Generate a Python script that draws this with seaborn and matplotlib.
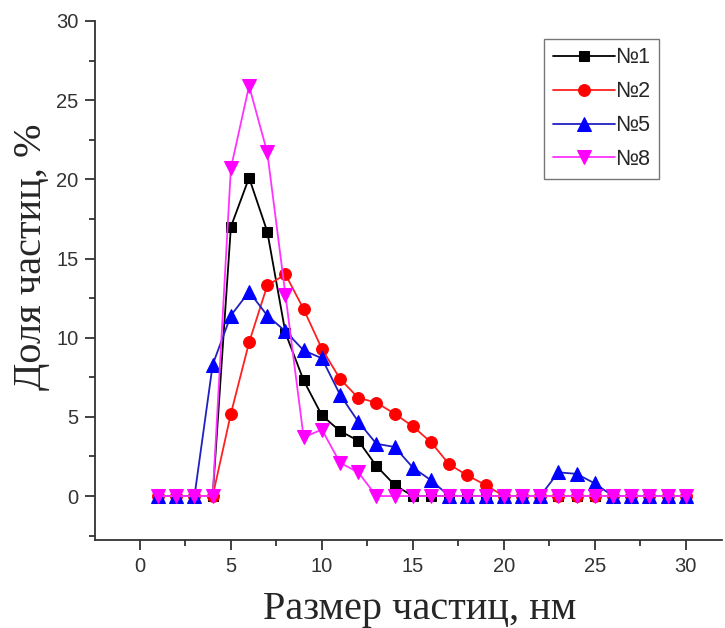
import matplotlib
matplotlib.use("Agg")
import matplotlib.pyplot as plt
import seaborn as sns
import numpy as np
from matplotlib.ticker import MultipleLocator

sizes = list(range(1, 31))
s1 = [0, 0, 0, 0, 17.0, 20.1, 16.7, 10.3, 7.3, 5.1, 4.1, 3.5, 1.9, 0.7, 0, 0, 0, 0, 0, 0, 0, 0, 0, 0, 0, 0, 0, 0, 0, 0]
s2 = [0, 0, 0, 0, 5.2, 9.7, 13.3, 14.0, 11.8, 9.3, 7.4, 6.2, 5.9, 5.2, 4.4, 3.4, 2.0, 1.3, 0.7, 0, 0, 0, 0, 0, 0, 0, 0, 0, 0, 0]
s5 = [0, 0, 0, 8.3, 11.4, 12.9, 11.4, 10.4, 9.2, 8.7, 6.4, 4.7, 3.3, 3.1, 1.8, 1.0, 0, 0, 0, 0, 0, 0, 1.5, 1.4, 0.8, 0, 0, 0, 0, 0]
s8 = [0, 0, 0, 0, 20.7, 25.9, 21.7, 12.7, 3.7, 4.2, 2.1, 1.5, 0, 0, 0, 0, 0, 0, 0, 0, 0, 0, 0, 0, 0, 0, 0, 0, 0, 0]
labels = ["№1", "№2", "№5", "№8"]
series = [s1, s2, s5, s8]

sns.set_style("ticks")
plt.rcParams['font.family'] = ['Liberation Sans', 'DejaVu Sans']

fig = plt.figure(figsize=(7.25, 6.28), dpi=100)
ax = fig.add_axes([0.131, 0.140, 0.865, 0.8266])

styles = [
    dict(color="black", marker="s", markersize=7, mfc="black", mec="black"),
    dict(color="#ff2020", marker="o", markersize=8.5, mfc="red", mec="red"),
    dict(color="#2020c0", marker="^", markersize=10, mfc="blue", mec="blue"),
    dict(color="#ff33ff", marker="v", markersize=10, mfc="#ff00ff", mec="#ff00ff"),
]
for vals, lab, st in zip(series, labels, styles):
    sns.lineplot(x=sizes, y=vals, ax=ax, label=lab, color=st["color"], marker=st["marker"],
                 markersize=st["markersize"], markerfacecolor=st["mfc"], markeredgecolor=st["mec"],
                 linewidth=1.3)

ax.set_xlim(-2.47, 32.0)
ax.set_ylim(-2.78, 30)
ax.xaxis.set_minor_locator(MultipleLocator(2.5))
ax.yaxis.set_minor_locator(MultipleLocator(2.5))
ax.set_xticks([0, 5, 10, 15, 20, 25, 30])
ax.set_yticks([0, 5, 10, 15, 20, 25, 30])
ax.tick_params(which="major", direction="out", length=7, width=1.3, labelsize=14.5,
               colors="#333333", pad=5)
ax.tick_params(which="minor", direction="out", length=4, width=1.3, colors="#333333")
for sp in ["top", "right"]:
    ax.spines[sp].set_visible(False)
for sp in ["left", "bottom"]:
    ax.spines[sp].set_linewidth(1.3)
    ax.spines[sp].set_color("#333333")

ax.set_xlabel("Размер частиц, нм", family=["Liberation Serif", "DejaVu Serif"], fontsize=29)
ax.set_ylabel("Доля частиц, %", family=["Liberation Serif", "DejaVu Serif"], fontsize=29)
ax.xaxis.set_label_coords(0.518, -0.133)
ax.xaxis.label.set_va("center")
ax.yaxis.set_label_coords(-0.102, 0.545)
ax.yaxis.label.set_va("center")

leg = ax.legend(loc="upper left", bbox_to_anchor=(0.716, 0.966), borderaxespad=0,
                fontsize=15.5, frameon=True, fancybox=False, edgecolor="#555555",
                handlelength=2.9, handletextpad=0.0, borderpad=0.4, labelspacing=0.6)
leg.get_frame().set_linewidth(1.0)

fig.savefig("out.png", dpi=100)
